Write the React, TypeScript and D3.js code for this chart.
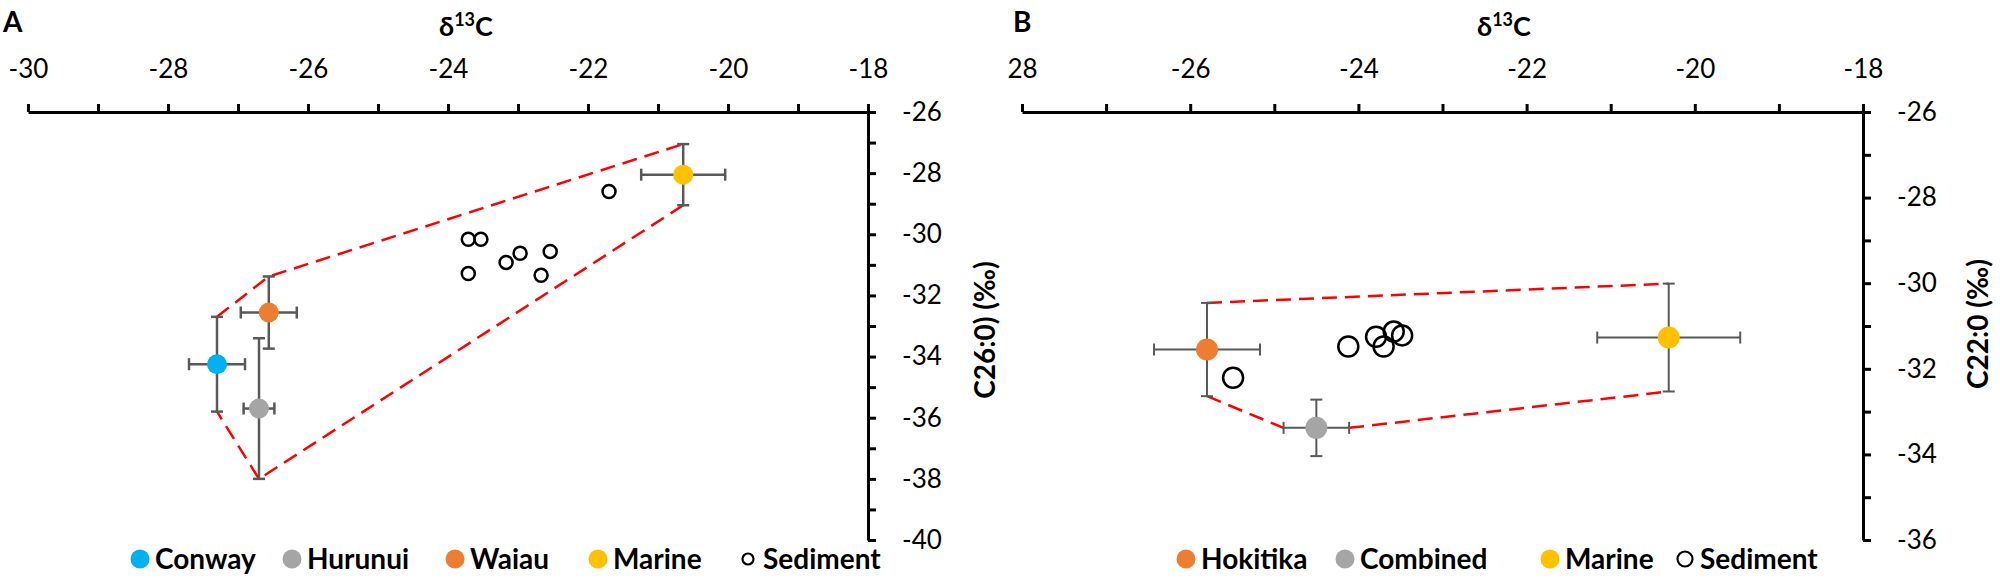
import React, { useEffect, useRef } from 'react';
import * as d3 from 'd3';

// ---- Panel A: C26:0 vs bulk d13C ----
const xTicksA = [-30, -28, -26, -24, -22, -20, -18];
const xTickLabelsA = ['-30', '-28', '-26', '-24', '-22', '-20', '-18'];
const yTicksA = [-26, -28, -30, -32, -34, -36, -38, -40];

const sourcesA = [
  { name: 'Conway', color: '#00B0F0', x: -27.3, y: -34.25, xErr: 0.4, yErr: 1.55 },
  { name: 'Hurunui', color: '#A5A5A5', x: -26.7, y: -35.7, xErr: 0.22, yErr: 2.3 },
  { name: 'Waiau', color: '#ED7D31', x: -26.56, y: -32.56, xErr: 0.4, yErr: 1.18 },
  { name: 'Marine', color: '#FFC000', x: -20.64, y: -28.05, xErr: 0.6, yErr: 1.0 },
];
const sedimentXA = [-23.71, -23.53, -23.17, -22.97, -22.54, -23.71, -22.67, -21.7];
const sedimentYA = [-30.16, -30.16, -30.92, -30.62, -30.56, -31.28, -31.34, -28.6];

// mixing envelope, drawn between error-bar ends
const hullA = [
  [['Conway', 'top'], ['Waiau', 'top'], ['Marine', 'top']],
  [['Marine', 'bottom'], ['Hurunui', 'bottom'], ['Conway', 'bottom']],
];

// ---- Panel B: C22:0 vs bulk d13C ----
const xTicksB = [-28, -26, -24, -22, -20, -18];
const xTickLabelsB = ['28', '-26', '-24', '-22', '-20', '-18'];
const yTicksB = [-26, -28, -30, -32, -34, -36];

const sourcesB = [
  { name: 'Hokitika', color: '#ED7D31', x: -25.8, y: -31.55, xErr: 0.63, yErr: 1.09 },
  { name: 'Combined', color: '#A5A5A5', x: -24.5, y: -33.38, xErr: 0.39, yErr: 0.66 },
  { name: 'Marine', color: '#FFC000', x: -20.31, y: -31.27, xErr: 0.85, yErr: 1.26 },
];
const sedimentXB = [-25.49, -24.12, -23.79, -23.7, -23.58, -23.48];
const sedimentYB = [-32.21, -31.48, -31.25, -31.48, -31.13, -31.22];

const hullB = [
  [['Hokitika', 'top'], ['Marine', 'top']],
  [['Hokitika', 'bottom'], ['Combined', 'left']],
  [['Combined', 'right'], ['Marine', 'bottom']],
];

const legendA = ['Conway', 'Hurunui', 'Waiau', 'Marine', 'Sediment'];
const legendB = ['Hokitika', 'Combined', 'Marine', 'Sediment'];

const FONT = 'Lato, "Open Sans", sans-serif';
const ERR = '#595959';

type Source = { name: string; color: string; x: number; y: number; xErr: number; yErr: number };

function drawPanel(
  svg: d3.Selection<SVGSVGElement, unknown, null, undefined>,
  opts: {
    letter: string; letterX: number;
    xRange: [number, number]; yDomain: [number, number];
    xTicks: number[]; xLabels: string[]; yTicks: number[];
    sources: Source[]; sedX: number[]; sedY: number[]; sedR: number;
    hull: string[][][]; markerR: number; errW: number;
    yTitle: string; yTitleX: number; yTitleY: number; titleX: number;
    legend: string[]; legendX: number[]; sedLegendR: number;
  }
) {
  const top = 112, bottom = 540;
  const x = d3.scaleLinear().domain([opts.xTicks[0], opts.xTicks[opts.xTicks.length - 1]]).range(opts.xRange);
  const y = d3.scaleLinear().domain(opts.yDomain).range([top, bottom]);
  const g = svg.append('g');

  // top x axis, a tick every unit, label every 2
  const xMinor = d3.range(opts.xTicks[0], opts.xTicks[opts.xTicks.length - 1] + 0.5, 1);
  const xAxis = g.append('g')
    .attr('transform', `translate(0,${top})`)
    .call(d3.axisTop(x).tickValues(xMinor).tickSizeInner(8).tickSizeOuter(0).tickPadding(26)
      .tickFormat(d => {
        const i = opts.xTicks.indexOf(+d);
        return i >= 0 ? opts.xLabels[i] : '';
      }));
  xAxis.attr('font-family', FONT).attr('font-size', 26);
  xAxis.select('.domain').attr('stroke', '#000').attr('stroke-width', 3);
  xAxis.selectAll('line').attr('stroke', '#000').attr('stroke-width', 3);
  xAxis.selectAll('text').attr('fill', '#000');

  // right y axis
  const yMinor = d3.range(opts.yDomain[0], opts.yDomain[1] - 0.5, -1);
  const yAxis = g.append('g')
    .attr('transform', `translate(${opts.xRange[1]},0)`)
    .call(d3.axisRight(y).tickValues(yMinor).tickSizeInner(8).tickSizeOuter(0).tickPadding(26)
      .tickFormat(d => (opts.yTicks.indexOf(+d) >= 0 ? String(d) : '')));
  yAxis.attr('font-family', FONT).attr('font-size', 26);
  yAxis.select('.domain').attr('stroke', '#000').attr('stroke-width', 3);
  yAxis.selectAll('line').attr('stroke', '#000').attr('stroke-width', 3);
  yAxis.selectAll('text').attr('fill', '#000');

  // titles
  const t = g.append('text')
    .attr('x', opts.titleX).attr('y', 36)
    .attr('text-anchor', 'middle')
    .attr('font-family', FONT).attr('font-size', 27).attr('font-weight', 'bold');
  t.append('tspan').text('δ');
  t.append('tspan').attr('dy', -10).attr('font-size', 18).text('13');
  t.append('tspan').attr('dy', 10).text('C');

  g.append('text')
    .attr('transform', `translate(${opts.yTitleX},${opts.yTitleY}) rotate(-90)`)
    .attr('text-anchor', 'middle')
    .attr('font-family', FONT).attr('font-size', 28).attr('font-weight', 'bold')
    .text(opts.yTitle);

  g.append('text')
    .attr('x', opts.letterX).attr('y', 32)
    .attr('font-family', FONT).attr('font-size', 28).attr('font-weight', 'bold')
    .text(opts.letter);

  // envelope
  const byName = new Map(opts.sources.map(s => [s.name, s]));
  const corner = (name: string, c: string): [number, number] => {
    const s = byName.get(name)!;
    if (c === 'top') return [x(s.x), y(s.y + s.yErr)];
    if (c === 'bottom') return [x(s.x), y(s.y - s.yErr)];
    if (c === 'left') return [x(s.x - s.xErr), y(s.y)];
    return [x(s.x + s.xErr), y(s.y)];
  };
  opts.hull.forEach(seg => {
    g.append('path')
      .attr('d', d3.line()(seg.map(([n, c]) => corner(n, c))))
      .attr('fill', 'none')
      .attr('stroke', '#FF0000')
      .attr('stroke-width', 2.5)
      .attr('stroke-dasharray', '15,8');
  });

  // error bars
  const cap = 6;
  opts.sources.forEach(s => {
    const cx = x(s.x), cy = y(s.y);
    const x0 = x(s.x - s.xErr), x1 = x(s.x + s.xErr);
    const y0 = y(s.y + s.yErr), y1 = y(s.y - s.yErr);
    const eg = g.append('g').attr('stroke', ERR).attr('stroke-width', opts.errW);
    eg.append('line').attr('x1', x0).attr('x2', x1).attr('y1', cy).attr('y2', cy);
    eg.append('line').attr('x1', cx).attr('x2', cx).attr('y1', y0).attr('y2', y1);
    [x0, x1].forEach(xx => eg.append('line').attr('x1', xx).attr('x2', xx).attr('y1', cy - cap).attr('y2', cy + cap));
    [y0, y1].forEach(yy => eg.append('line').attr('x1', cx - cap).attr('x2', cx + cap).attr('y1', yy).attr('y2', yy));
  });

  // sediments
  g.selectAll('circle.sed')
    .data(opts.sedX.map((v, i) => [v, opts.sedY[i]]))
    .join('circle')
    .attr('class', 'sed')
    .attr('cx', d => x(d[0])).attr('cy', d => y(d[1]))
    .attr('r', opts.sedR)
    .attr('fill', 'none').attr('stroke', '#000').attr('stroke-width', 2.5);

  // sources
  g.selectAll('circle.src')
    .data(opts.sources)
    .join('circle')
    .attr('class', 'src')
    .attr('cx', d => x(d.x)).attr('cy', d => y(d.y))
    .attr('r', opts.markerR)
    .attr('fill', d => d.color);

  // legend
  const ly = 559;
  opts.legend.forEach((name, i) => {
    const mx = opts.legendX[i];
    const s = byName.get(name);
    if (name === 'Sediment') {
      g.append('circle').attr('cx', mx).attr('cy', ly).attr('r', opts.sedLegendR)
        .attr('fill', 'none').attr('stroke', '#000').attr('stroke-width', 2.2);
    } else {
      g.append('circle').attr('cx', mx).attr('cy', ly).attr('r', 9.5).attr('fill', s ? s.color : '#000');
    }
    g.append('text')
      .attr('x', mx + 15).attr('y', ly + 10)
      .attr('font-family', FONT).attr('font-size', 28).attr('font-weight', 'bold')
      .text(name);
  });
}

export default function App() {
  const svgRef = useRef<SVGSVGElement>(null);

  useEffect(() => {
    if (!svgRef.current) return;
    const svg = d3.select(svgRef.current);
    svg.selectAll('*').remove();

    drawPanel(svg, {
      letter: 'A', letterX: 3,
      xRange: [28, 868], yDomain: [-26, -40],
      xTicks: xTicksA, xLabels: xTickLabelsA, yTicks: yTicksA,
      sources: sourcesA, sedX: sedimentXA, sedY: sedimentYA, sedR: 6.5,
      hull: hullA, markerR: 10, errW: 2.5,
      yTitle: 'C26:0) (‰)', yTitleX: 995, yTitleY: 330, titleX: 466,
      legend: legendA, legendX: [140, 292, 455, 598, 748], sedLegendR: 5.5,
    });

    drawPanel(svg, {
      letter: 'B', letterX: 1013,
      xRange: [1022, 1863], yDomain: [-26, -36],
      xTicks: xTicksB, xLabels: xTickLabelsB, yTicks: yTicksB,
      sources: sourcesB, sedX: sedimentXB, sedY: sedimentYB, sedR: 10,
      hull: hullB, markerR: 11, errW: 2,
      yTitle: 'C22:0 (‰)', yTitleX: 1988, yTitleY: 324, titleX: 1504,
      legend: legendB, legendX: [1186, 1345, 1550, 1685], sedLegendR: 7.5,
    });
  }, []);

  return (
    <div style={{ position: 'absolute', left: 0, top: 0, background: '#fff' }}>
      <svg ref={svgRef} width={2000} height={578} />
    </div>
  );
}
